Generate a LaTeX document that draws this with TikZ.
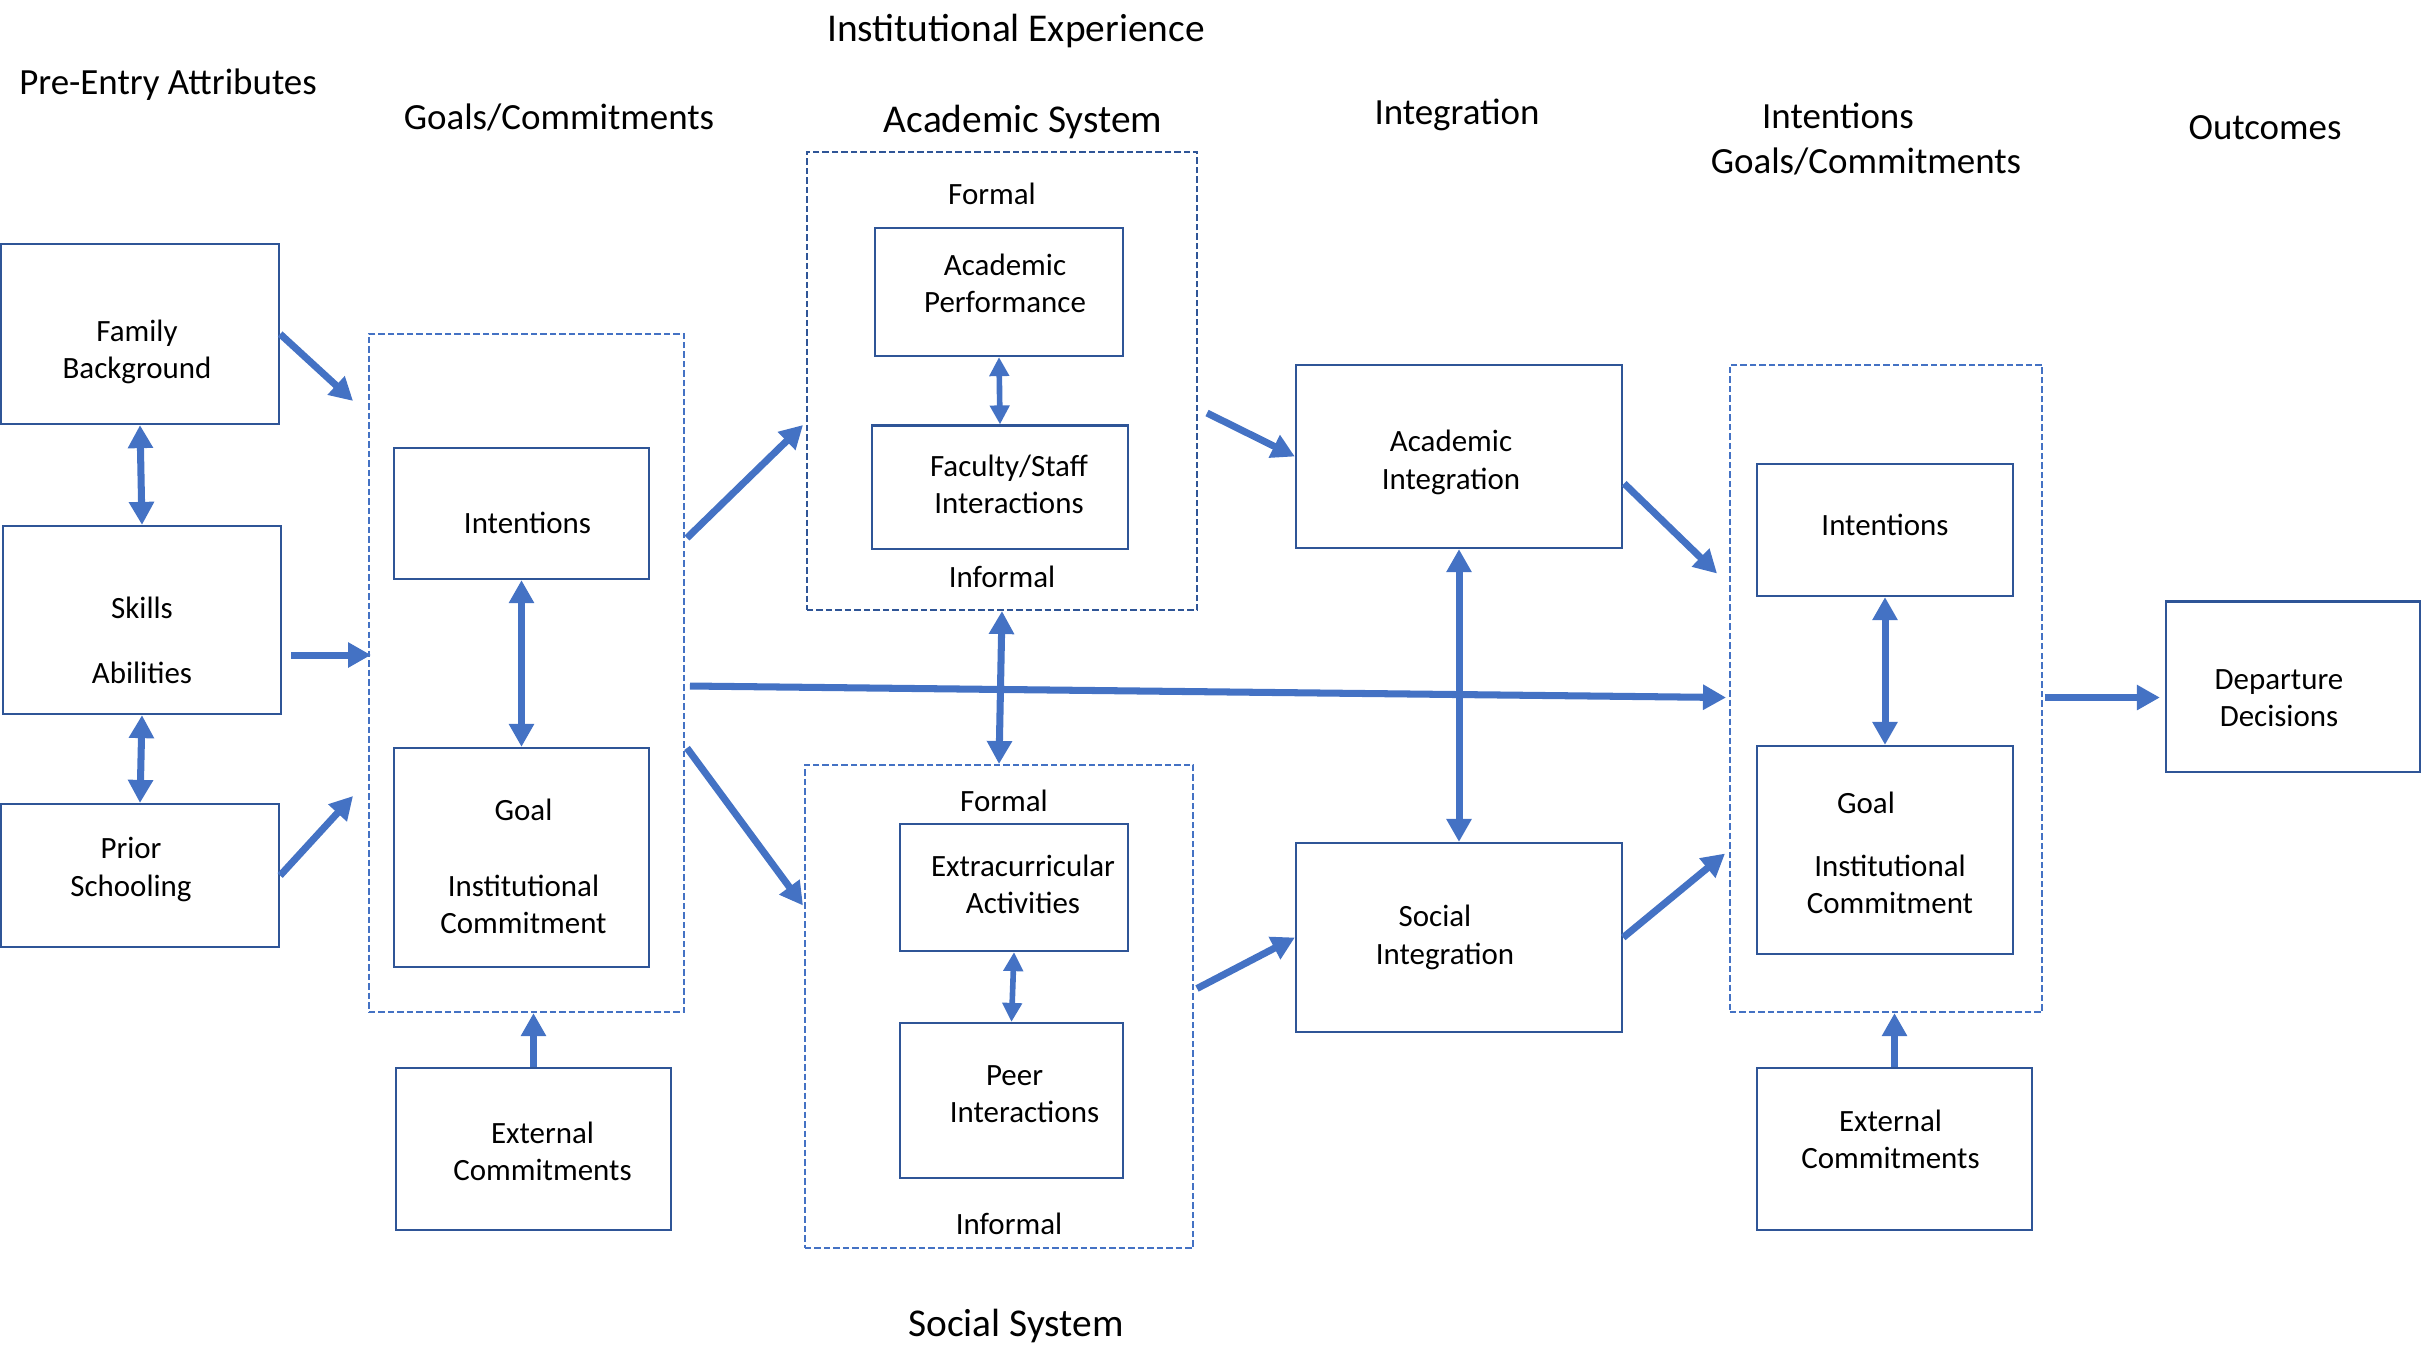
\documentclass[tikz,border=0pt]{standalone}
\usepackage{fontspec}
\setmainfont{Carlito}
\usetikzlibrary{arrows.meta,calc}
\definecolor{boxblue}{HTML}{2F5597}
\definecolor{arrowblue}{HTML}{4472C4}

\begin{document}
\begin{tikzpicture}[x=0.01cm, y=-0.01cm]
        \tikzstyle{block}=[draw=boxblue,line width=0.6pt,align=center,inner sep=0pt,font=\fontsize{8.8}{10.6}\selectfont]
        \tikzstyle{group}=[draw=arrowblue,line width=0.5pt,dash pattern=on 0.065cm off 0.03cm,inner sep=0pt]
        \tikzstyle{note}=[align=center,inner sep=0pt,font=\fontsize{8.8}{10.6}\selectfont]
        \tikzstyle{heading}=[align=center,inner sep=0pt,font=\fontsize{10.5}{12.8}\selectfont]
        \tikzstyle{bigheading}=[align=center,inner sep=0pt,font=\fontsize{11.2}{13.4}\selectfont]
        \tikzstyle{flow}=[draw=arrowblue,line width=2pt,-{Triangle[width=0.24cm,length=0.23cm]}]
        \tikzstyle{twoway}=[draw=arrowblue,line width=2pt,{Triangle[width=0.24cm,length=0.23cm]}-{Triangle[width=0.24cm,length=0.23cm]}]
        \tikzstyle{twowaysmall}=[draw=arrowblue,line width=1.6pt,{Triangle[width=0.19cm,length=0.19cm]}-{Triangle[width=0.19cm,length=0.19cm]}]

        \useasboundingbox (0,0) rectangle (2433,1347);

        % column headings
        \node[bigheading] (H_inst) at (1016,31) {Institutional Experience};
        \node[heading] (H_pre) at (168,85) {Pre-Entry Attributes};
        \node[heading] (H_goal) at (559,117) {Goals/Commitments};
        \node[bigheading] (H_acad) at (1023,122) {Academic System};
        \node[heading] (H_int) at (1457,115) {Integration};
        \node[heading] (H_out) at (1866,139) {\hspace*{-0.56cm}Intentions\\Goals/Commitments};
        \node[heading] (H_res) at (2265,128) {Outcomes};
        \node[bigheading] (H_soc) at (1016,1326) {Social System};

        % dashed groups
        \node[group,minimum width=3.15cm,minimum height=6.78cm] (Goal_box) at (526.5,673) {};
        \node[group,draw=boxblue,minimum width=3.90cm,minimum height=4.58cm] (Acad_box) at (1002,381) {};
        \node[group,minimum width=3.88cm,minimum height=4.83cm] (Soc_box) at (999,1006.5) {};
        \node[group,minimum width=3.12cm,minimum height=6.47cm] (Out_box) at (1886,688.5) {};

        % boxes (text placed as in the original, slightly off centre)
        \node[block,minimum width=2.78cm,minimum height=1.80cm,
              label={[note,xshift=-0.03cm,yshift=-0.18cm]center:Family\\Background}] (Pre_1) at (140,334) {};
        \node[block,minimum width=2.78cm,minimum height=1.88cm,
              label={[note,yshift=-0.20cm]center:Skills\\[0.28cm]Abilities}] (Pre_2) at (142,620) {};
        \node[block,minimum width=2.78cm,minimum height=1.43cm,
              label={[note,xshift=-0.09cm,yshift=0.06cm]center:Prior\\Schooling}] (Pre_3) at (140,875.5) {};

        \node[block,minimum width=2.55cm,minimum height=1.31cm,
              label={[note,xshift=0.06cm,yshift=-0.09cm]center:Intentions}] (Goal_1) at (521.5,513.5) {};
        \node[block,minimum width=2.55cm,minimum height=2.19cm,
              label={[note,xshift=0.02cm,yshift=-0.09cm]center:Goal\\[0.39cm]Institutional\\Commitment}] (Goal_2) at (521.5,857.5) {};
        \node[block,minimum width=2.75cm,minimum height=1.62cm,
              label={[note,xshift=0.09cm,yshift=-0.02cm]center:External\\Commitments}] (Goal_ext) at (533.5,1149) {};

        \node[note] (Acad_top) at (992,194) {Formal};
        \node[block,minimum width=2.48cm,minimum height=1.28cm,
              label={[note,xshift=0.06cm,yshift=0.09cm]center:Academic\\Performance}] (Acad_1) at (999,292) {};
        \node[block,minimum width=2.56cm,minimum height=1.23cm,
              label={[note,xshift=0.09cm,yshift=0.03cm]center:Faculty/Staff\\Interactions}] (Acad_2) at (1000,487) {};
        \node[note] (Acad_bot) at (1002,577) {Informal};

        \node[note] (Soc_top) at (1004,801) {Formal};
        \node[block,minimum width=2.28cm,minimum height=1.27cm,
              label={[note,xshift=0.09cm,yshift=0.03cm]center:Extracurricular\\Activities}] (Soc_1) at (1014,887.5) {};
        \node[block,minimum width=2.23cm,minimum height=1.55cm,
              label={[note,xshift=0.13cm,yshift=0.06cm]center:\hspace*{-0.2cm}Peer\\Interactions}] (Soc_2) at (1011.5,1100.5) {};
        \node[note] (Soc_bot) at (1009,1224) {Informal};

        \node[block,minimum width=3.26cm,minimum height=1.83cm,
              label={[note,xshift=-0.08cm,yshift=-0.06cm]center:Academic\\Integration}] (Int_1) at (1459,456.5) {};
        \node[block,minimum width=3.26cm,minimum height=1.89cm,
              label={[note,xshift=-0.14cm]center:\hspace*{-0.2cm}Social\\Integration}] (Int_2) at (1459,937.5) {};

        \node[block,minimum width=2.56cm,minimum height=1.32cm,
              label={[note,yshift=0.05cm]center:Intentions}] (Out_1) at (1885,530) {};
        \node[block,minimum width=2.56cm,minimum height=2.08cm,
              label={[note,xshift=0.05cm,yshift=-0.03cm]center:\hspace*{-0.48cm}Goal\\[0.25cm]Institutional\\Commitment}] (Out_2) at (1885,850) {};
        \node[block,minimum width=2.74cm,minimum height=1.62cm,
              label={[note,xshift=-0.04cm,yshift=0.10cm]center:External\\Commitments}] (Out_ext) at (1894.5,1149) {};

        \node[block,minimum width=2.54cm,minimum height=1.70cm,
              label={[note,xshift=-0.14cm,yshift=-0.12cm]center:Departure\\Decisions}] (Dep) at (2293,686.5) {};

        % connectors
        \draw[twoway] (Pre_1.south) -- (Pre_2.north);
        \draw[twoway] (Pre_2.south) -- (Pre_3.north);
        \draw[flow] (Pre_1.east) -- ($(Goal_box.north west)+(-15,68)$);
        \draw[flow] ($(Pre_2.east)+(9,35)$) -- ($(Goal_box.west)+(3,-18)$);
        \draw[flow] (Pre_3.east) -- ($(Goal_box.west)+(-15,123)$);

        \draw[twoway] (Goal_1.south) -- (Goal_2.north);
        \draw[flow] (Goal_ext.north) -- (Goal_ext.north |- Goal_box.south);
        \draw[flow] ($(Goal_box.east)+(2,-135)$) -- ($(Acad_box.west)+(-3,44)$);
        \draw[flow] ($(Goal_box.east)+(2,75)$) -- ($(Soc_box.west)+(-1,-101)$);
        \draw[flow] ($(Goal_box.east)+(5,13)$) -- ($(Out_box.west)+(-3,9)$);

        \draw[twowaysmall] (Acad_1.south) -- (Acad_2.north);
        \draw[twowaysmall] (Soc_1.south) -- (Soc_2.north);
        \draw[twoway] (Acad_box.south) -- (Soc_box.north);
        \draw[flow] ($(Acad_box.east)+(9,32)$) -- (Int_1.west);
        \draw[flow] ($(Soc_box.east)+(3,-18)$) -- (Int_2.west);

        \draw[twoway] (Int_1.south) -- (Int_2.north);
        \draw[flow] ($(Int_1.east)+(1,27)$) -- ($(Out_box.west)+(-12,-115)$);
        \draw[flow] (Int_2.east) -- ($(Out_box.west)+(-4,165)$);

        \draw[twoway] (Out_1.south) -- (Out_2.north);
        \draw[flow] (Out_ext.north) -- (Out_ext.north |- Out_box.south);
        \draw[flow] ($(Out_box.east)+(2,9)$) -- ($(Dep.west)+(-5,11)$);
\end{tikzpicture}
\end{document}
